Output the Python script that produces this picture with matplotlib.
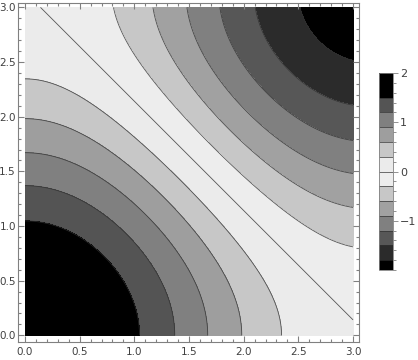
import numpy as np
import matplotlib
matplotlib.use("Agg")
import matplotlib.pyplot as plt
from matplotlib.colors import ListedColormap, BoundaryNorm
from matplotlib.ticker import MultipleLocator

# %% Data

# plotted surface: cos(x) + cos(y) over [0, 3] x [0, 3]
x_range = [0.0, 3.0]
y_range = [0.0, 3.0]

# band edges and the gray shade of each band
band_edges = [-2.0, -1.8, -1.5, -1.2, -0.9, -0.6, -0.3, 0.0, 0.3, 0.6, 0.9, 1.2, 1.5, 2.0]
band_grays = [0.0, 0.17, 0.34, 0.5, 0.63, 0.78, 0.93, 0.92, 0.78, 0.62, 0.5, 0.33, 0.0]

# contour lines drawn over the bands
line_levels = [-1.8, -1.5, -1.2, -0.9, -0.6, -0.3, 0.0, 0.3, 0.6, 0.9, 1.2, 1.5]

cbar_ticks = [-1, 0, 1, 2]
cbar_labels = ["\u22121", "0", "1", "2"]

# %% Grid

xs = np.linspace(x_range[0], x_range[1], 400)
ys = np.linspace(y_range[0], y_range[1], 400)
X, Y = np.meshgrid(xs, ys)
Z = np.cos(X) + np.cos(Y)

cmap = ListedColormap([(g, g, g) for g in band_grays])
norm = BoundaryNorm(band_edges, cmap.N)

# %% Plot

frame_col = "#808080"
text_col = "#404040"

fig = plt.figure(figsize=(4.18, 3.6), dpi=100)
ax = fig.add_axes([18 / 418, 18.3 / 360, 340.5 / 418, 338.7 / 360])

cf = ax.contourf(X, Y, Z, levels=band_edges, cmap=cmap, norm=norm)
cs = ax.contour(X, Y, Z, levels=line_levels, colors="#303030", linewidths=0.6,
                alpha=0.8, linestyles="solid")

ax.set_xlim(-0.064, 3.05)
ax.set_ylim(-0.058, 3.04)

ax.xaxis.set_major_locator(MultipleLocator(0.5))
ax.xaxis.set_minor_locator(MultipleLocator(0.1))
ax.yaxis.set_major_locator(MultipleLocator(0.5))
ax.yaxis.set_minor_locator(MultipleLocator(0.1))
ax.xaxis.set_major_formatter(lambda v, p: f"{v:.1f}")
ax.yaxis.set_major_formatter(lambda v, p: f"{v:.1f}")
ax.tick_params(which="both", direction="in", top=True, right=True,
               color=frame_col, labelcolor=text_col, labelsize=7.5, width=0.8)
ax.tick_params(which="major", length=4.5)
ax.tick_params(which="minor", length=2.5)
ax.tick_params(axis="y", which="major", pad=1.5)
for s in ax.spines.values():
    s.set_color(frame_col)
    s.set_linewidth(0.8)

# colorbar
cax = fig.add_axes([379 / 418, 90 / 360, 13.5 / 418, 197 / 360])
cb = fig.colorbar(cf, cax=cax, spacing="proportional")
cb.add_lines(cs)
for coll in cb.lines:
    coll.set_linewidth(0.6)
cb.set_ticks(cbar_ticks)
cb.set_ticklabels(cbar_labels)
cb.ax.yaxis.set_minor_locator(MultipleLocator(0.2))
cb.ax.tick_params(which="both", direction="out", color=frame_col,
                  labelcolor=text_col, labelsize=8, width=0.6)
cb.ax.tick_params(which="major", length=3.5, pad=2)
cb.ax.tick_params(which="minor", length=2)
cb.outline.set_edgecolor(frame_col)
cb.outline.set_linewidth(0.6)

fig.savefig("out.png", dpi=100)
